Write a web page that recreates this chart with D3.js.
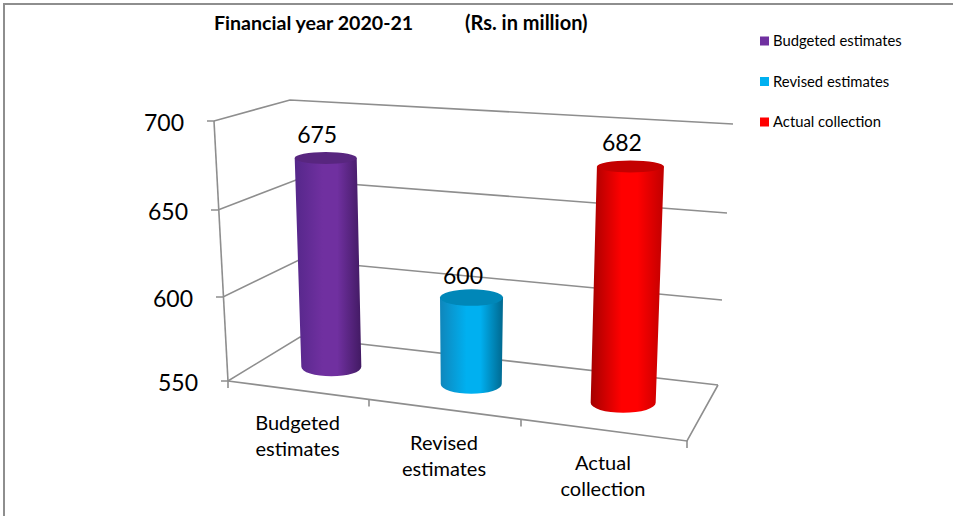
<!DOCTYPE html>
<html>
<head>
<meta charset="utf-8">
<style>
  html, body { margin: 0; padding: 0; background: #fff; }
  svg { display: block; }
  text { font-family: Lato, "Open Sans", sans-serif; fill: #000; }
</style>
<script src="https://cdnjs.cloudflare.com/ajax/libs/d3/7.8.5/d3.min.js"></script>
</head>
<body>
<svg id="chart" width="953" height="516"></svg>
<script>
// Chart data
const categories = [["Budgeted", "estimates"], ["Revised", "estimates"], ["Actual", "collection"]];
const seriesNames = ["Budgeted estimates", "Revised estimates", "Actual collection"];
const values = [675, 600, 682];
const yTicks = [550, 600, 650, 700];
const seriesColors = ["#7030a0", "#00b0f0", "#ff0000"];
const capColors = ["#58267f", "#0087b8", "#c40000"];
const edgeColors = [["#55278a", "#421a63"], ["#0f86bb", "#00688f"], ["#a50000", "#c00000"]];

const svg = d3.select("#chart");
const frameColor = "#8e8e8e";

// Box edges of the 3D plot, as scales over the value axis
const frontLeftX = d3.scaleLinear().domain(yTicks).range([228, 223, 218, 214]);
const frontLeftY = d3.scaleLinear().domain(yTicks).range([381, 297, 210, 121]);
const backLeftX  = d3.scaleLinear().domain(yTicks).range([300, 299, 296, 290]);
const backLeftY  = d3.scaleLinear().domain(yTicks).range([337, 260, 180, 100]);
const backRightX = d3.scaleLinear().domain(yTicks).range([718, 722, 727, 733]);
const backRightY = d3.scaleLinear().domain(yTicks).range([385, 300, 213, 124]);

// Floor edges over the category axis; spacing narrows with distance
const catSteps = [0, 1, 2, 3];
const floorFrontX = d3.scaleLinear().domain(catSteps).range([228, 369, 521, 687]);
const floorFrontY = d3.scaleLinear().domain(catSteps).range([381, 399.5, 419.5, 441]);
const floorBackX  = d3.scaleLinear().domain(catSteps).range([300, 428.3, 566.7, 718]);
const floorBackY  = d3.scaleLinear().domain(catSteps).range([337, 351.7, 367.6, 385]);

// Perspective factors for the columns, by category position
const unitHeight = d3.scaleLinear().domain([0, 3]).range([1.64, 1.82]);
const lean       = d3.scaleLinear().domain([0, 3]).range([-0.07, 0.08]);
const radiusX    = d3.scaleLinear().domain([0.5, 1.5, 2.5]).range([30.5, 31, 33]);
const radiusY    = d3.scaleLinear().domain([150, 400]).range([5.8, 10]);

const line = d3.line();
const g = svg.append("g");

function stroke(points, width) {
  g.append("path").attr("d", line(points)).attr("fill", "none")
    .attr("stroke", frameColor).attr("stroke-width", width || 1.6);
}

// Picture frame: top and left only
stroke([[4, 516], [4, 4], [953, 4]], 2);

// Wall gridlines and value axis
yTicks.forEach(v => {
  stroke([[frontLeftX(v) - 7, frontLeftY(v)], [frontLeftX(v), frontLeftY(v)],
          [backLeftX(v), backLeftY(v)], [backRightX(v), backRightY(v)]]);
  g.append("text")
    .attr("x", frontLeftX(v) - 30).attr("y", frontLeftY(v) + 2)
    .attr("dy", "0.35em").attr("text-anchor", "end")
    .attr("font-size", 23).text(v);
});
stroke([[frontLeftX(700), frontLeftY(700)], [frontLeftX(550), frontLeftY(550)]]);

// Floor outline and category ticks
stroke([[floorFrontX(0), floorFrontY(0)], [floorFrontX(3), floorFrontY(3)], [floorBackX(3), floorBackY(3)]]);
catSteps.forEach(c => {
  stroke([[floorFrontX(c), floorFrontY(c)], [floorFrontX(c), floorFrontY(c) + 7]]);
});

// Horizontal shading of each cylinder
const defs = svg.append("defs");
seriesColors.forEach((color, i) => {
  const grad = defs.append("linearGradient").attr("id", "cyl" + i);
  [[0, edgeColors[i][0]], [0.42, color], [0.64, color], [1, edgeColors[i][1]]].forEach(([o, c]) => {
    grad.append("stop").attr("offset", o).attr("stop-color", c);
  });
});

// Cylinders standing halfway between the front and back of the floor
values.forEach((v, i) => {
  const c = i + 0.5;
  const baseX = (floorFrontX(c) + floorBackX(c)) / 2;
  const baseY = (floorFrontY(c) + floorBackY(c)) / 2 - 0.5;
  const topX = baseX + lean(c) * (v - 550);
  const topY = baseY - unitHeight(c) * (v - 550);
  const rBase = radiusX(c) - 0.5;
  const rTop = radiusX(c) + 0.5;
  const ryBase = radiusY(baseY);
  const ryTop = radiusY(topY);

  g.append("path")
    .attr("d", `M${topX - rTop},${topY}L${baseX - rBase},${baseY}` +
               `A${rBase},${ryBase} 0 0 0 ${baseX + rBase},${baseY}` +
               `L${topX + rTop},${topY}Z`)
    .attr("fill", `url(#cyl${i})`);
  g.append("ellipse")
    .attr("cx", topX).attr("cy", topY).attr("rx", rTop).attr("ry", ryTop)
    .attr("fill", capColors[i]);

  g.append("text")
    .attr("x", topX - 8.5).attr("y", topY - ryTop - (i === 1 ? 5 : 9))
    .attr("text-anchor", "middle").attr("font-size", 23).text(v);
});

// Category labels under the front edge of the floor
categories.forEach((lines, i) => {
  const c = i + 0.5;
  lines.forEach((t, k) => {
    g.append("text")
      .attr("x", floorFrontX(c) - 1).attr("y", floorFrontY(c) + 33 + k * 26)
      .attr("dy", "0.35em").attr("text-anchor", "middle")
      .attr("font-size", 20).text(t);
  });
});

// Title
svg.append("text").attr("x", 214).attr("y", 30)
  .attr("font-size", 19.6).attr("font-weight", 700).text("Financial year 2020-21");
svg.append("text").attr("x", 465).attr("y", 30)
  .attr("font-size", 20).attr("font-weight", 700).text("(Rs. in million)");

// Legend
const legendY = d3.scalePoint().domain(seriesNames).range([41, 122]);
seriesNames.forEach((name, i) => {
  svg.append("rect").attr("x", 760).attr("y", legendY(name) - 4.5)
    .attr("width", 9).attr("height", 9).attr("fill", seriesColors[i]);
  svg.append("text").attr("x", 773).attr("y", legendY(name))
    .attr("dy", "0.35em").attr("font-size", 14.8).attr("fill", "#1a1a1a").text(name);
});
</script>
</body>
</html>
